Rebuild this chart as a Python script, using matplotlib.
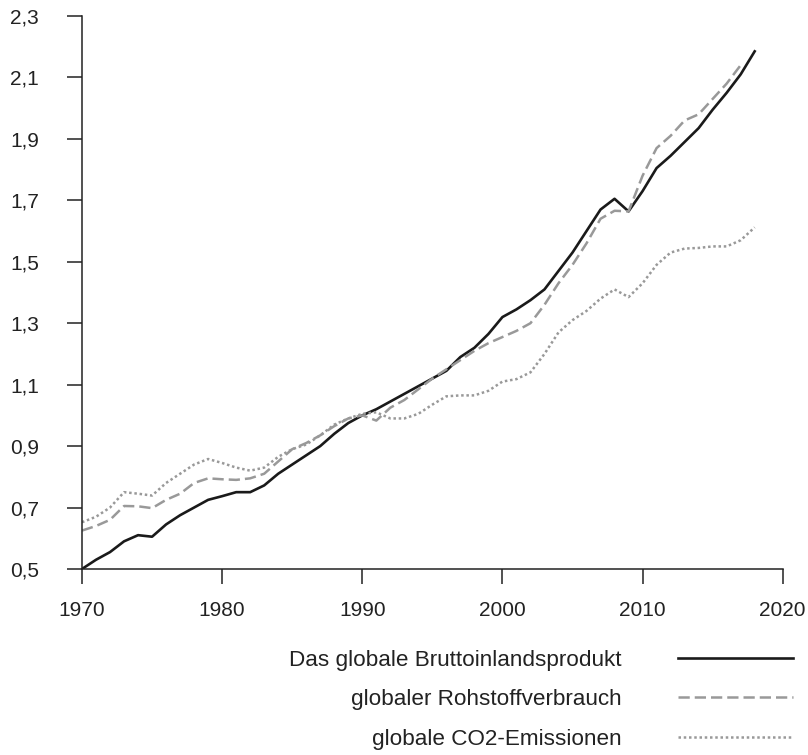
import matplotlib
matplotlib.use("Agg")
import matplotlib.pyplot as plt
from matplotlib.ticker import FuncFormatter

plt.rcParams['font.family'] = ['Liberation Sans', 'DejaVu Sans']

# Indexwerte (1990 = 1)
jahre_bip = list(range(1970, 2019))
bip = [0.50, 0.53, 0.555, 0.59, 0.61, 0.605, 0.645, 0.675, 0.70, 0.725,
       0.737, 0.75, 0.75, 0.772, 0.81, 0.84, 0.87, 0.90, 0.94, 0.975,
       1.00, 1.02, 1.045, 1.07, 1.095, 1.12, 1.145, 1.19, 1.22, 1.265,
       1.32, 1.345, 1.375, 1.41, 1.47, 1.53, 1.60, 1.67, 1.705, 1.664,
       1.73, 1.805, 1.845, 1.89, 1.935, 1.995, 2.05, 2.11, 2.185]

jahre_roh = list(range(1970, 2018))
rohstoffe = [0.625, 0.64, 0.66, 0.705, 0.704, 0.698, 0.725, 0.745, 0.78, 0.795,
             0.792, 0.79, 0.795, 0.81, 0.85, 0.89, 0.91, 0.935, 0.965, 0.99,
             1.00, 0.983, 1.025, 1.05, 1.085, 1.12, 1.15, 1.18, 1.21, 1.235,
             1.255, 1.275, 1.30, 1.36, 1.43, 1.49, 1.56, 1.64, 1.666, 1.664,
             1.78, 1.87, 1.91, 1.96, 1.98, 2.03, 2.08, 2.14]

jahre_co2 = list(range(1970, 2019))
co2 = [0.652, 0.67, 0.70, 0.75, 0.745, 0.739, 0.78, 0.81, 0.84, 0.858,
       0.845, 0.83, 0.82, 0.83, 0.865, 0.89, 0.905, 0.935, 0.97, 0.99,
       1.005, 1.01, 0.99, 0.99, 1.005, 1.035, 1.062, 1.065, 1.065, 1.08,
       1.11, 1.118, 1.14, 1.20, 1.27, 1.31, 1.34, 1.38, 1.41, 1.385,
       1.43, 1.49, 1.53, 1.543, 1.545, 1.55, 1.55, 1.57, 1.612]

labels = ['Das globale Bruttoinlandsprodukt',
          'globaler Rohstoffverbrauch',
          'globale CO2-Emissionen']

yticks = [0.5, 0.7, 0.9, 1.1, 1.3, 1.5, 1.7, 1.9, 2.1, 2.3]
xticks = [1970, 1980, 1990, 2000, 2010, 2020]

fig = plt.figure(figsize=(8.08, 7.55), dpi=100)
ax = fig.add_axes([0.1015, 0.2464, 0.8672, 0.7324])

ax.plot(jahre_bip, bip, color='#1a1a1a', lw=1.9, label=labels[0])
ax.plot(jahre_roh, rohstoffe, color='#999999', lw=1.8, ls=(0, (4.5, 2)), label=labels[1])
ax.plot(jahre_co2, co2, color='#999999', lw=1.8, ls=(0, (1, 1.1)), label=labels[2])

ax.set_xlim(1970, 2020)
ax.set_ylim(0.5, 2.3)
ax.set_xticks(xticks)
ax.set_yticks(yticks)
ax.yaxis.set_major_formatter(FuncFormatter(lambda v, p: f'{v:.1f}'.replace('.', ',')))

for s in ['top', 'right']:
    ax.spines[s].set_visible(False)
for s in ['left', 'bottom']:
    ax.spines[s].set_linewidth(1.1)
    ax.spines[s].set_color('#222222')

ax.tick_params(axis='both', direction='out', length=11, width=1.1, color='#222222',
               labelsize=15, labelcolor='#222222')
ax.tick_params(axis='y', pad=20)
ax.tick_params(axis='x', pad=12)

leg = ax.legend(loc='upper right', bbox_to_anchor=(0.981, 0.139),
                bbox_transform=fig.transFigure, frameon=False, markerfirst=False,
                fontsize=16.2, handlelength=5.1, handletextpad=2.5, labelspacing=0.81,
                borderaxespad=0, borderpad=0)
for t in leg.get_texts():
    t.set_color('#222222')

fig.savefig('out.png', dpi=100)
